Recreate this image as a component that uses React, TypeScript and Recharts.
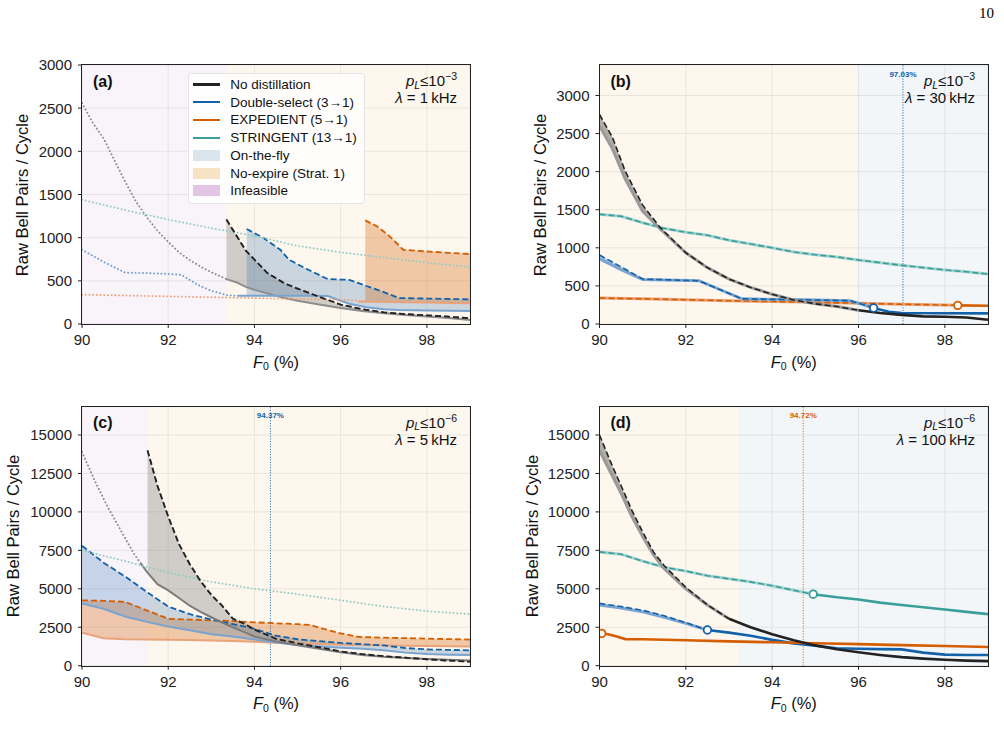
import React from 'react'
import {
  Area,
  CartesianGrid,
  ComposedChart,
  Line,
  ReferenceArea,
  ReferenceLine,
  XAxis,
  YAxis,
} from 'recharts'

type Pt = [number, number]

const SANS = '"Liberation Sans", Arial, Helvetica, sans-serif'

const C_NONE = '#222222'
const C_DS = '#1261a9'
const C_EXP = '#d55e00'
const C_STR = '#3a9f9a'
const C_NONE_LIGHT = '#8c8c8c'
const C_DS_LIGHT = '#7aa3cf'
const C_EXP_LIGHT = '#e9a37a'
const C_STR_LIGHT = '#a3d3cf'

const BG_INFEASIBLE = '#d7b3db'
const BG_NOEXPIRE = '#f5c88a'
const BG_OTF = '#a9c2d6'

const F0_TICKS = [90, 92, 94, 96, 98]
const Y_TICKS_LO = [0, 500, 1000, 1500, 2000, 2500, 3000]
const Y_TICKS_HI = [0, 2500, 5000, 7500, 10000, 12500, 15000]

const LEGEND_LINES: [string, string][] = [
  ['No distillation', C_NONE],
  ['Double-select (3→1)', C_DS],
  ['EXPEDIENT (5→1)', C_EXP],
  ['STRINGENT (13→1)', C_STR],
]
const LEGEND_PATCHES: [string, string][] = [
  ['On-the-fly', '#dbe5ed'],
  ['No-expire (Strat. 1)', '#f8e2c4'],
  ['Infeasible', '#e3c5e5'],
]

// (a) p_L <= 1e-3, lambda = 1 kHz
const aNoneDot: Pt[] = [[90, 2560], [90.25, 2330], [90.5, 2150], [90.75, 1900], [91, 1650], [91.25, 1420], [91.5, 1240], [91.75, 1080], [92, 950], [92.25, 830], [92.5, 740], [92.75, 665], [93, 600], [93.35, 520]]
const aNoneX = [93.35, 93.6, 93.8, 94, 94.3, 94.7, 95, 95.5, 96, 96.5, 97, 97.5, 98, 98.5, 99]
const aNoneHi = [1210, 1010, 850, 745, 590, 470, 410, 315, 225, 170, 135, 115, 100, 85, 65]
const aNoneLo = [520, 480, 430, 395, 355, 300, 270, 225, 185, 150, 125, 105, 88, 70, 45]
const aDsDot: Pt[] = [[90, 860], [90.5, 720], [91, 595], [91.5, 590], [92, 580], [92.3, 570], [92.7, 450], [93, 385], [93.35, 335], [93.6, 327]]
const aDsLead: Pt[] = [[93.6, 327]]
const aDsX = [93.82, 94.2, 94.6, 94.8, 95.2, 95.7, 96, 96.2, 96.6, 97, 97.35, 98, 99]
const aDsHi = [1100, 1000, 860, 745, 640, 520, 515, 512, 440, 370, 300, 295, 285]
const aDsLo = [327, 327, 327, 327, 327, 325, 270, 235, 195, 172, 163, 157, 150]
const aExpDot: Pt[] = [[90, 340], [91, 330], [92, 320], [93, 310], [94, 300], [95, 290], [96, 280], [96.4, 275]]
const aExpLead: Pt[] = [[96.4, 262]]
const aExpX = [96.57, 96.85, 97.15, 97.45, 98, 98.5, 99]
const aExpHi = [1200, 1130, 1010, 860, 840, 825, 810]
const aExpLo = [262, 258, 255, 252, 248, 244, 240]
const aStrDot: Pt[] = [[90, 1440], [91, 1320], [92, 1210], [93, 1110], [94, 1020], [95, 905], [96, 830], [97, 770], [98, 710], [99, 660]]

// (b) p_L <= 1e-3, lambda = 30 kHz
const bNoneX = [90, 90.3, 90.6, 91, 91.4, 92, 92.5, 93, 93.5, 94, 94.5, 95, 95.5, 96, 96.5, 97, 97.5, 98, 98.5, 99]
const bNoneHi = [2750, 2450, 2000, 1560, 1270, 935, 740, 590, 480, 390, 315, 265, 230, 180, 145, 120, 100, 95, 85, 55]
const bNoneLo = [2600, 2300, 1900, 1480, 1250, 935, 740, 590, 480, 390, 315, 265, 230, 180, 145, 120, 100, 95, 85, 55]
const bDsX = [90, 90.5, 91, 92.3, 93.3, 94.5, 95.8, 96.05, 96.35, 96.7, 97, 98, 99]
const bDsHi = [905, 750, 590, 568, 330, 320, 306, 265, 210, 160, 145, 142, 140]
const bDsLo = [855, 715, 585, 568, 330, 320, 306, 265, 210, 160, 145, 142, 140]
const bExpX = [90, 91, 92, 93, 94, 95, 96, 97, 98.3, 99]
const bExpHi = [340, 330, 318, 305, 295, 285, 272, 260, 245, 240]
const bStrX = [90, 90.5, 91, 91.5, 92, 92.5, 93, 93.5, 94, 94.5, 95, 95.5, 96, 96.5, 97, 97.5, 98, 98.5, 99]
const bStrHi = [1440, 1415, 1330, 1255, 1205, 1165, 1100, 1050, 1000, 945, 910, 880, 840, 805, 770, 740, 710, 685, 655]

// (c) p_L <= 1e-6, lambda = 5 kHz
const cNoneDot: Pt[] = [[90, 13900], [90.3, 12000], [90.6, 10300], [90.9, 8800], [91.2, 7300], [91.35, 6700]]
const cNoneLead: Pt[] = [[91.35, 6700]]
const cNoneX = [91.52, 91.75, 92, 92.25, 92.5, 92.75, 93, 93.25, 93.5, 93.75, 94, 94.5, 95, 95.5, 96, 96.5, 97, 97.5, 98, 98.5, 99]
const cNoneHi = [14000, 11700, 9700, 7900, 6600, 5500, 4600, 3900, 3050, 2750, 2350, 1750, 1450, 1200, 930, 750, 620, 520, 420, 330, 260]
const cNoneLo = [6050, 5300, 4900, 4400, 3900, 3500, 3150, 2800, 2500, 2200, 1900, 1580, 1330, 1100, 880, 700, 580, 500, 430, 380, 340]
const cDsX = [90, 90.5, 91, 91.5, 92, 92.5, 93, 93.5, 94, 94.5, 95, 95.5, 96, 96.5, 97, 97.5, 98, 98.5, 99]
const cDsHi = [7800, 6700, 5800, 4800, 3850, 3350, 3000, 2700, 2400, 1950, 1720, 1600, 1480, 1400, 1320, 1150, 1060, 1030, 1000]
const cDsLo = [4050, 3700, 3200, 2850, 2550, 2300, 2050, 1900, 1700, 1500, 1350, 1250, 1170, 1100, 1000, 850, 760, 720, 700]
const cExpX = [90, 90.5, 91, 91.5, 92, 92.5, 93, 93.5, 94, 94.5, 95, 95.3, 95.6, 96, 96.4, 97, 97.5, 98, 98.5, 99]
const cExpHi = [4250, 4220, 4150, 3600, 3050, 3000, 2950, 2900, 2820, 2760, 2700, 2650, 2400, 2100, 1880, 1820, 1790, 1760, 1730, 1700]
const cExpLo = [2150, 1790, 1715, 1705, 1690, 1670, 1640, 1600, 1550, 1500, 1450, 1420, 1400, 1380, 1360, 1320, 1300, 1280, 1265, 1250]
const cStrDot: Pt[] = [[90, 7500], [91, 6800], [92, 6050], [93, 5450], [94, 5000], [95, 4650], [96, 4250], [97, 3850], [98, 3550], [99, 3350]]

// (d) p_L <= 1e-6, lambda = 100 kHz
const dNoneX = [90, 90.25, 90.5, 90.75, 91, 91.25, 91.5, 92, 92.5, 93, 93.5, 94, 94.5, 95, 95.5, 96, 96.5, 97, 97.5, 98, 98.5, 99]
const dNoneHi = [15000, 13300, 11700, 10100, 8700, 7400, 6500, 5100, 3950, 3050, 2500, 2050, 1650, 1320, 1070, 870, 700, 560, 460, 390, 330, 300]
const dNoneLo = [14000, 12600, 11200, 9700, 8400, 7200, 6300, 5000, 3950, 3050, 2500, 2050, 1650, 1320, 1070, 870, 700, 560, 460, 390, 330, 300]
const dDsX = [90, 90.5, 91, 91.5, 92, 92.5, 93, 93.5, 94, 94.5, 95, 95.5, 96, 96.5, 97, 97.5, 98, 98.5, 99]
const dDsHi = [4050, 3850, 3600, 3250, 2800, 2320, 2150, 1950, 1680, 1450, 1300, 1130, 1100, 1080, 1060, 850, 720, 700, 700]
const dDsLo = [3950, 3750, 3500, 3150, 2750, 2320, 2150, 1950, 1680, 1450, 1300, 1130, 1100, 1080, 1060, 850, 720, 700, 700]
const dExpX = [90.05, 90.2, 90.4, 90.6, 91, 92, 93, 94, 95, 96, 97, 98, 99]
const dExpHi = [2100, 2050, 1900, 1730, 1720, 1650, 1580, 1520, 1460, 1400, 1340, 1280, 1220]
const dStrX = [90, 90.5, 91, 91.5, 92, 92.5, 93, 93.5, 94, 94.5, 94.95, 95.5, 96, 96.5, 97, 97.5, 98, 98.5, 99]
const dStrHi = [7400, 7250, 6800, 6400, 6150, 5850, 5650, 5450, 5200, 4900, 4650, 4450, 4300, 4100, 3950, 3800, 3650, 3500, 3350]

const pts = (xs: number[], ys: number[]) => xs.map((x, i) => ({ x, y: ys[i] }))
const tup = (list: Pt[]) => list.map(([x, y]) => ({ x, y }))
const band = (xs: number[], lo: number[], hi: number[]) => xs.map((x, i) => ({ x, r: [lo[i], hi[i]] }))

const DASH = '6 3'
const DOT = '0.1 3.6'
const Y_AXIS_W = 60
const X_AXIS_H = 30
const TICK_FONT = 15

// tick labels drawn by hand so the font size sticks
function xTick(props: any) {
  return (
    <text x={props.x} y={props.y} dy="0.76em" textAnchor="middle" fontSize={TICK_FONT} fontFamily={SANS} fill="#222">
      {props.payload.value}
    </text>
  )
}
function yTick(props: any) {
  return (
    <text x={props.x} y={props.y} dy="0.36em" textAnchor="end" fontSize={TICK_FONT} fontFamily={SANS} fill="#222">
      {props.payload.value}
    </text>
  )
}

function dotted(id: string, list: Pt[], color: string) {
  return (
    <Line key={id} data={tup(list)} dataKey="y" type="linear" stroke={color} strokeWidth={1.9}
      strokeDasharray={DOT} strokeLinecap="round" dot={false} isAnimationActive={false} />
  )
}

// dashed no-expire curve over a lighter on-the-fly curve, shaded in between
function spread(id: string, xs: number[], hi: number[], lo: number[], lead: Pt[], color: string,
  light: string, opacity: number) {
  return [
    <Area key={id + 'b'} data={band(xs, lo, hi)} dataKey="r" type="linear" stroke="none"
      fill={color} fillOpacity={opacity} isAnimationActive={false} />,
    <Line key={id + 'l'} data={[...tup(lead), ...pts(xs, lo)]} dataKey="y" type="linear" stroke={light}
      strokeWidth={2} dot={false} isAnimationActive={false} />,
    <Line key={id + 'h'} data={pts(xs, hi)} dataKey="y" type="linear" stroke={color}
      strokeWidth={1.8} strokeDasharray={DASH} dot={false} isAnimationActive={false} />,
  ]
}

// dashed up to the switch point, solid afterwards; optional open circle at the switch
function trace(id: string, xs: number[], hi: number[], lo: number[], mark: number, color: string,
  light: string, circle: boolean, fillOpacity = 0.3) {
  const all = pts(xs, hi)
  const before = all.filter((p) => p.x <= mark)
  const after = all.filter((p) => p.x >= mark)
  const lower = pts(xs, lo).filter((p) => p.x <= mark)
  const out = [
    <Area key={id + 'b'} data={band(xs, lo, hi)} dataKey="r" type="linear" stroke="none"
      fill={color} fillOpacity={fillOpacity} isAnimationActive={false} />,
    <Line key={id + 'l'} data={lower} dataKey="y" type="linear" stroke={light} strokeWidth={3}
      dot={false} isAnimationActive={false} />,
    <Line key={id + 'h'} data={before} dataKey="y" type="linear" stroke={color} strokeWidth={1.6}
      strokeDasharray={DASH} dot={false} isAnimationActive={false} />,
  ]
  if (after.length > 1) {
    out.push(
      <Line key={id + 's'} data={after} dataKey="y" type="linear" stroke={color} strokeWidth={2.6}
        dot={false} isAnimationActive={false} />,
    )
  }
  if (circle) {
    out.push(
      <Line key={id + 'm'} data={after.slice(0, 1)} dataKey="y" stroke="none" isAnimationActive={false}
        dot={{ r: 3.8, fill: '#ffffff', stroke: color, strokeWidth: 1.8 }} />,
    )
  }
  return out
}

function region(id: string, x1: number, x2: number, fill: string) {
  return <ReferenceArea key={id} x1={x1} x2={x2} fill={fill} fillOpacity={0.14} stroke="none" />
}

function cutoff(x: number, color: string, text: string) {
  return (
    <ReferenceLine key="cut" x={x} stroke={color} strokeWidth={1} strokeDasharray="1 1.6"
      label={{ value: text, position: 'insideTop', offset: 6, fill: color, fontSize: 8, fontWeight: 700, fontFamily: SANS }} />
  )
}

const sub: React.CSSProperties = { fontSize: 10.5, position: 'relative', top: '0.25em', verticalAlign: 'baseline', lineHeight: 0 }
const sup: React.CSSProperties = { fontSize: 10.5, position: 'relative', top: '-0.55em', verticalAlign: 'baseline', lineHeight: 0 }

type PanelProps = {
  left: number
  top: number
  plotLeft: number
  plotTop: number
  plotW: number
  plotH: number
  yMax: number
  yTicks: number[]
  yLabelX: number
  letter: string
  pExp: string
  lambda: string
  extra?: React.ReactNode
  children: React.ReactNode
}

function Panel(p: PanelProps) {
  const W = 500
  const H = 340
  const margin = {
    top: p.plotTop,
    left: p.plotLeft - Y_AXIS_W,
    right: W - p.plotLeft - p.plotW,
    bottom: H - p.plotTop - p.plotH - X_AXIS_H,
  }
  const annRight = W - p.plotLeft - p.plotW + 13
  return (
    <div style={{ position: 'absolute', left: p.left, top: p.top, width: W, height: H }}>
      <ComposedChart width={W} height={H} margin={margin}>
        <CartesianGrid stroke="#e6e6e6" strokeWidth={0.8} />
        <XAxis type="number" dataKey="x" domain={[90, 99]} ticks={F0_TICKS} allowDataOverflow
          axisLine={false} height={X_AXIS_H} tickSize={4} tickMargin={6} tick={xTick}
          tickLine={{ stroke: '#222' }} interval={0} />
        <YAxis type="number" domain={[0, p.yMax]} ticks={p.yTicks} allowDataOverflow axisLine={false}
          width={Y_AXIS_W} tickSize={4} tickMargin={6} tick={yTick}
          tickLine={{ stroke: '#222' }} interval={0} />
        {p.children}
      </ComposedChart>
      <div style={{ position: 'absolute', left: p.plotLeft - 0.6, top: p.plotTop - 0.6, width: p.plotW, height: p.plotH, border: '1.2px solid #222', pointerEvents: 'none' }} />
      <div style={{ position: 'absolute', left: p.yLabelX, top: p.plotTop + p.plotH / 2, transform: 'translate(-50%, -50%) rotate(-90deg)', whiteSpace: 'nowrap', fontSize: 16.5, color: '#111' }}>
        Raw Bell Pairs / Cycle
      </div>
      <div style={{ position: 'absolute', left: p.plotLeft + p.plotW / 2, top: p.plotTop + p.plotH + 37.5, transform: 'translate(-50%, -50%)', whiteSpace: 'nowrap', fontSize: 16.5, color: '#111' }}>
        <i>F</i><span style={sub}>0</span> (%)
      </div>
      <div style={{ position: 'absolute', left: p.plotLeft + 11, top: p.plotTop + 16.5, transform: 'translateY(-50%)', fontSize: 16, fontWeight: 700, color: '#111' }}>
        {p.letter}
      </div>
      <div style={{ position: 'absolute', right: annRight, top: p.plotTop + 16, transform: 'translateY(-50%)', fontSize: 15, lineHeight: '14px', whiteSpace: 'nowrap', color: '#111' }}>
        <i>p</i><span style={sub}><i>L</i></span>≤10<span style={sup}>{p.pExp}</span>
      </div>
      <div style={{ position: 'absolute', right: annRight, top: p.plotTop + 33, transform: 'translateY(-50%)', fontSize: 15, lineHeight: '14px', whiteSpace: 'nowrap', color: '#111' }}>
        <i>λ</i> = {p.lambda}
      </div>
      {p.extra}
    </div>
  )
}

function Legend() {
  return (
    <div style={{ position: 'absolute', left: 188, top: 32.5, width: 175, height: 129, background: 'rgba(255,255,255,0.85)', border: '1px solid #e4e4e4', borderRadius: 3, fontSize: 13.5, color: '#111' }}>
      {LEGEND_LINES.map(([name, color], i) => (
        <div key={name} style={{ position: 'absolute', left: 0, top: 11 + i * 17.7 - 8, height: 16, display: 'flex', alignItems: 'center' }}>
          <span style={{ marginLeft: 3.7, width: 27.5, height: 2.2, background: color }} />
          <span style={{ marginLeft: 10, whiteSpace: 'nowrap' }}>{name}</span>
        </div>
      ))}
      {LEGEND_PATCHES.map(([name, color], j) => (
        <div key={name} style={{ position: 'absolute', left: 0, top: 11 + (j + 4) * 17.7 - 8, height: 16, display: 'flex', alignItems: 'center' }}>
          <span style={{ marginLeft: 3.7, width: 27.5, height: 11, background: color }} />
          <span style={{ marginLeft: 10, whiteSpace: 'nowrap' }}>{name}</span>
        </div>
      ))}
    </div>
  )
}

export default function App() {
  return (
    <div style={{ position: 'absolute', left: 0, top: 0, width: 1004, height: 754, background: '#fff', fontFamily: SANS, overflow: 'hidden' }}>
      <div style={{ position: 'absolute', right: 10, top: 5, fontFamily: '"Liberation Serif", serif', fontSize: 15 }}>10</div>

      <Panel left={0} top={40} plotLeft={82} plotTop={25} plotW={388} plotH={259} yMax={3000} yTicks={Y_TICKS_LO}
        yLabelX={22} letter="(a)" pExp="−3" lambda={'1\u2009kHz'} extra={<Legend />}>
        {[
          region('inf', 90, 93.35, BG_INFEASIBLE),
          region('nx', 93.35, 99, BG_NOEXPIRE),
          ...spread('none', aNoneX, aNoneHi, aNoneLo, [], C_NONE_LIGHT, C_NONE_LIGHT, 0.4),
          ...spread('ds', aDsX, aDsHi, aDsLo, aDsLead, C_DS, C_DS_LIGHT, 0.22),
          ...spread('exp', aExpX, aExpHi, aExpLo, aExpLead, C_EXP, C_EXP_LIGHT, 0.3),
          dotted('noneD', aNoneDot, '#8a8a8a'),
          dotted('dsD', aDsDot, '#6f9fd0'),
          dotted('expD', aExpDot, '#eba27c'),
          dotted('strD', aStrDot, '#93cbc7'),
          <Line key="noneHiTop" data={pts(aNoneX, aNoneHi)} dataKey="y" type="linear" stroke={C_NONE}
            strokeWidth={1.8} strokeDasharray={DASH} dot={false} isAnimationActive={false} />,
        ]}
      </Panel>

      <Panel left={500} top={40} plotLeft={99.5} plotTop={25} plotW={388.5} plotH={259} yMax={3400} yTicks={Y_TICKS_LO}
        yLabelX={40} letter="(b)" pExp="−3" lambda={'30\u2009kHz'}>
        {[
          region('nx', 90, 95.96, BG_NOEXPIRE),
          region('otf', 95.96, 99, BG_OTF),
          cutoff(97.03, C_DS, '97.03%'),
          ...trace('str', bStrX, bStrHi, bStrHi, 99, C_STR, C_STR_LIGHT, false),
          ...trace('exp', bExpX, bExpHi, bExpHi, 98.3, C_EXP, C_EXP_LIGHT, true),
          ...trace('ds', bDsX, bDsHi, bDsLo, 96.35, C_DS, C_DS_LIGHT, true),
          ...trace('none', bNoneX, bNoneHi, bNoneLo, 96, C_NONE, '#9a9a9a', false, 0.35),
        ]}
      </Panel>

      <Panel left={0} top={380} plotLeft={82} plotTop={26.7} plotW={388} plotH={259} yMax={16840} yTicks={Y_TICKS_HI}
        yLabelX={12.7} letter="(c)" pExp="−6" lambda={'5\u2009kHz'}>
        {[
          region('inf', 90, 91.52, BG_INFEASIBLE),
          region('nx', 91.52, 99, BG_NOEXPIRE),
          cutoff(94.37, C_DS, '94.37%'),
          ...spread('exp', cExpX, cExpHi, cExpLo, [], C_EXP, C_EXP_LIGHT, 0.3),
          ...spread('ds', cDsX, cDsHi, cDsLo, [], C_DS, C_DS_LIGHT, 0.22),
          ...spread('none', cNoneX, cNoneHi, cNoneLo, cNoneLead, C_NONE_LIGHT, '#7c7c7c', 0.4),
          dotted('noneD', cNoneDot, '#8a8a8a'),
          dotted('strD', cStrDot, '#93cbc7'),
          <Line key="noneHiTop" data={pts(cNoneX, cNoneHi)} dataKey="y" type="linear" stroke={C_NONE}
            strokeWidth={1.8} strokeDasharray={DASH} dot={false} isAnimationActive={false} />,
        ]}
      </Panel>

      <Panel left={500} top={380} plotLeft={99.5} plotTop={26.7} plotW={388.5} plotH={259} yMax={16840} yTicks={Y_TICKS_HI}
        yLabelX={31.7} letter="(d)" pExp="−6" lambda={'100\u2009kHz'}>
        {[
          region('nx', 90, 93.22, BG_NOEXPIRE),
          region('otf', 93.22, 99, BG_OTF),
          cutoff(94.72, C_EXP, '94.72%'),
          ...trace('str', dStrX, dStrHi, dStrHi, 94.95, C_STR, C_STR_LIGHT, true),
          ...trace('ds', dDsX, dDsHi, dDsLo, 92.5, C_DS, C_DS_LIGHT, true),
          ...trace('exp', dExpX, dExpHi, dExpHi, 90.05, C_EXP, C_EXP_LIGHT, true),
          ...trace('none', dNoneX, dNoneHi, dNoneLo, 93, C_NONE, '#9a9a9a', false, 0.35),
        ]}
      </Panel>
    </div>
  )
}
